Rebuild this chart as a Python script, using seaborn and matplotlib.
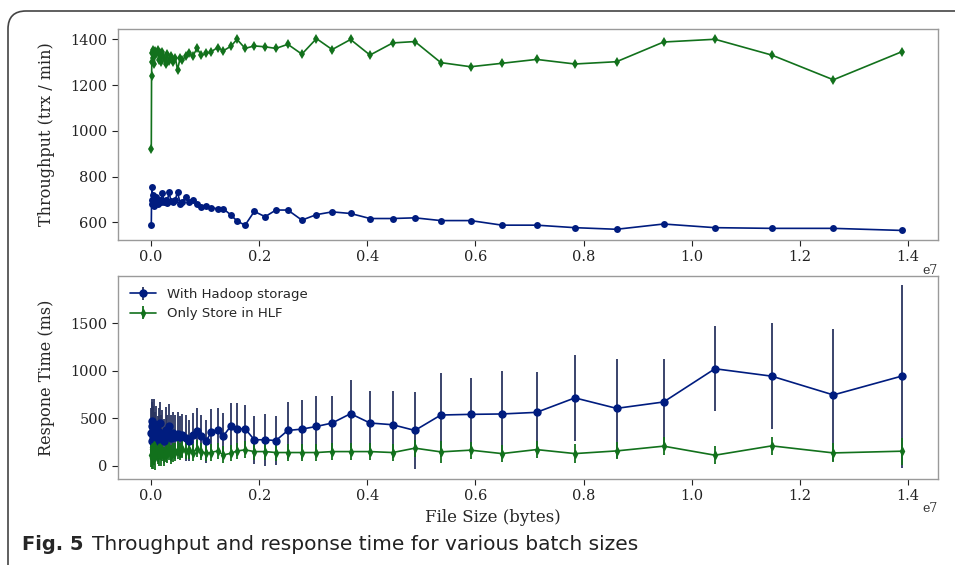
import numpy as np
import pandas as pd
import seaborn as sns
import matplotlib.pyplot as plt
from matplotlib.patches import FancyBboxPatch
from matplotlib.ticker import FuncFormatter, MultipleLocator

sns.set_theme(style='ticks')
plt.rcParams['font.family'] = ['DejaVu Serif']

# file sizes in units of 1e7 bytes
file_size_e7 = [0.0005, 0.001, 0.0015, 0.002, 0.003, 0.004, 0.005, 0.006, 0.008, 0.010,
                0.012, 0.014, 0.016, 0.018, 0.021, 0.024, 0.027, 0.030, 0.033, 0.037,
                0.041, 0.045, 0.049, 0.054, 0.058, 0.064, 0.070, 0.077, 0.085, 0.093,
                0.102, 0.111, 0.123, 0.134, 0.148, 0.159, 0.174, 0.191, 0.211, 0.231,
                0.253, 0.279, 0.306, 0.335, 0.369, 0.405, 0.447, 0.488, 0.536, 0.591,
                0.649, 0.713, 0.784, 0.861, 0.948, 1.043, 1.148, 1.262, 1.388]

thr_hadoop = [588, 700, 680, 755, 690, 720, 670, 700, 690, 710,
              680, 695, 700, 690, 730, 690, 700, 685, 733, 695,
              690, 700, 733, 682, 690, 711, 691, 700, 682, 668,
              670, 665, 659, 659, 632, 606, 588, 648, 625, 654,
              654, 610, 634, 646, 639, 617, 617, 620, 608, 608,
              588, 588, 577, 570, 593, 577, 574, 574, 565]

thr_hlf = [920, 1240, 1300, 1340, 1355, 1320, 1345, 1290, 1350, 1335,
           1355, 1310, 1340, 1300, 1345, 1320, 1290, 1335, 1305, 1325,
           1300, 1320, 1266, 1320, 1310, 1325, 1340, 1325, 1360, 1330,
           1338, 1345, 1364, 1350, 1370, 1400, 1360, 1371, 1367, 1360,
           1378, 1335, 1403, 1355, 1399, 1331, 1384, 1390, 1298, 1280,
           1295, 1312, 1292, 1302, 1388, 1400, 1331, 1223, 1345]

rt_hadoop = [350, 420, 260, 470, 300, 380, 250, 440, 320, 400,
             280, 360, 450, 300, 340, 260, 380, 310, 420, 290,
             350, 300, 338, 300, 320, 290, 267, 330, 370, 310,
             257, 356, 380, 317, 422, 387, 391, 275, 275, 267,
             373, 387, 415, 451, 549, 451, 433, 373, 535, 542,
             546, 563, 715, 605, 672, 1021, 943, 746, 943]

rt_hadoop_std = [260, 250, 240, 230, 270, 250, 240, 260, 250, 230,
                 240, 250, 220, 240, 250, 230, 240, 220, 230, 240,
                 220, 230, 230, 220, 230, 240, 220, 230, 240, 230,
                 230, 240, 230, 240, 243, 278, 244, 253, 274, 254,
                 296, 310, 317, 288, 359, 341, 352, 401, 444, 384,
                 450, 426, 454, 522, 455, 444, 557, 697, 961]

rt_hlf = [120, 200, 80, 180, 150, 100, 220, 130, 90, 170,
          140, 110, 190, 120, 160, 100, 150, 130, 170, 120,
          140, 150, 169, 150, 180, 160, 169, 140, 180, 150,
          134, 141, 158, 116, 134, 158, 169, 151, 151, 141,
          141, 141, 141, 151, 151, 151, 141, 187, 148, 166,
          130, 172, 130, 158, 208, 113, 211, 137, 155]

rt_hlf_std = [130, 120, 110, 140, 120, 130, 110, 120, 130, 110,
              120, 110, 100, 120, 110, 100, 110, 100, 110, 100,
              100, 95, 95, 90, 95, 90, 95, 90, 90, 90,
              85, 90, 85, 90, 85, 85, 90, 85, 85, 85,
              85, 85, 85, 85, 85, 85, 85, 90, 115, 90,
              90, 90, 97, 90, 95, 97, 97, 100, 141]

size_bytes = np.array(file_size_e7) * 1e7
df_thr = pd.concat([
    pd.DataFrame({'size': size_bytes, 'thr': thr_hadoop, 'setup': 'With Hadoop storage'}),
    pd.DataFrame({'size': size_bytes, 'thr': thr_hlf, 'setup': 'Only Store in HLF'}),
])

pal = sns.color_palette('dark')
blue, green = pal[0], pal[2]

fig = plt.figure(figsize=(9.55, 5.65), dpi=100)
ax1 = fig.add_axes([0.1236, 0.5752, 0.8586, 0.3735])
ax2 = fig.add_axes([0.1236, 0.1522, 0.8586, 0.3593])

sns.lineplot(data=df_thr, x='size', y='thr', hue='setup', style='setup',
             markers={'With Hadoop storage': 'o', 'Only Store in HLF': 'd'},
             dashes=False, palette=[blue, green], sort=False, estimator=None,
             markersize=5, markeredgewidth=0, linewidth=1.2, legend=False, ax=ax1)

ax2.errorbar(size_bytes, rt_hadoop, yerr=rt_hadoop_std, color=blue, marker='o',
             markersize=5, linewidth=1.2, elinewidth=1.3, ecolor='#2b3560',
             label='With Hadoop storage')
ax2.errorbar(size_bytes, rt_hlf, yerr=rt_hlf_std, color=green, marker='d',
             markersize=4, linewidth=1.2, elinewidth=1.3,
             label='Only Store in HLF')

for ax in (ax1, ax2):
    ax.set_xlim(-0.061e7, 1.4555e7)
    ax.xaxis.set_major_locator(MultipleLocator(2e6))
    ax.xaxis.set_major_formatter(FuncFormatter(lambda v, _: f'{v / 1e7:.1f}'))
    for s in ax.spines.values():
        s.set_color('#9a9a9a')
        s.set_linewidth(1.0)
    ax.tick_params(labelsize=10.5, colors='#222222', length=4, width=0.8)
    ax.text(1.0, -0.115, 'e7', transform=ax.transAxes, ha='right', va='top',
            fontsize=9, color='#333333')

ax2.set_ylim(-137, 1995)

ax1.set_xlabel('')
ax1.set_ylabel('Throughput (trx / min)', fontsize=11.5)
ax2.set_xlabel('File Size (bytes)', fontsize=12)
ax2.set_ylabel('Respone Time (ms)', fontsize=11.5)
ax1.yaxis.set_label_coords(-0.077, 0.5)
ax2.yaxis.set_label_coords(-0.077, 0.5)
ax2.xaxis.set_label_coords(0.457, -0.15)

ax2.legend(loc='upper left', frameon=False, prop={'family': 'DejaVu Sans', 'size': 9.5},
           handlelength=2.0, borderaxespad=0.5)

# page frame with rounded corner
frame = FancyBboxPatch((0.08, -1.0), 12.0, 6.54, boxstyle='round,pad=0,rounding_size=0.18',
                       transform=fig.dpi_scale_trans, facecolor='none',
                       edgecolor='#444444', linewidth=1.2, clip_on=False)
fig.patches.append(frame)

fig.text(22 / 955, 1 - 544 / 565, 'Fig. 5', fontsize=14, fontweight='bold',
         family='DejaVu Sans', va='center', ha='left')
fig.text(92 / 955, 1 - 544 / 565, 'Throughput and response time for various batch sizes',
         fontsize=14.5, family='DejaVu Sans', va='center', ha='left', color='#222222')

fig.savefig('out.png', dpi=100)
plt.close(fig)
